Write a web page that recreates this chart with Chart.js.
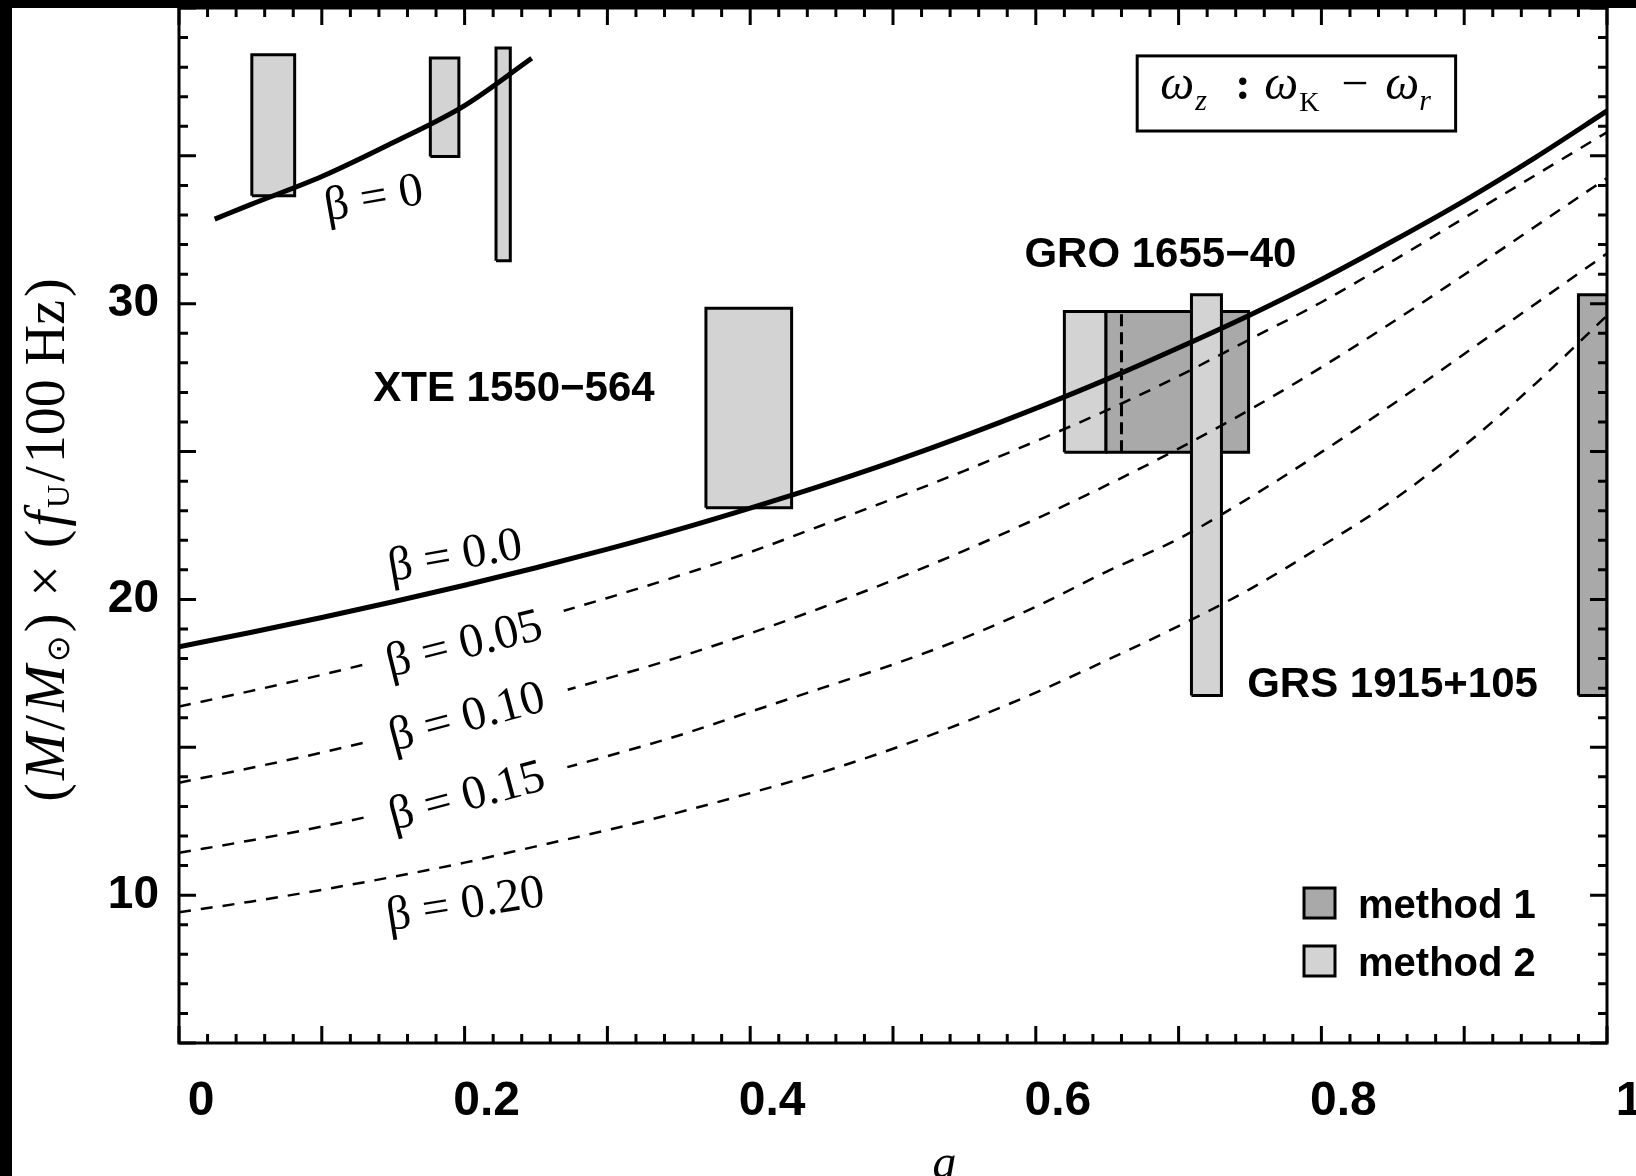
<!DOCTYPE html>
<html>
<head>
<meta charset="utf-8">
<title>Mass vs spin, wz : wK - wr resonance</title>
<script src="https://cdn.jsdelivr.net/npm/chart.js@4.4.1/dist/chart.umd.min.js"></script>
<style>
  html, body { margin: 0; padding: 0; background: #fff; }
</style>
</head>
<body>
<canvas id="massChart" width="1636" height="1176"></canvas>
<script>
// spin values where the curves were read
const spinA = [0, 0.05, 0.1, 0.15, 0.2, 0.25, 0.3, 0.35, 0.4, 0.45, 0.5,
               0.55, 0.6, 0.65, 0.7, 0.75, 0.8, 0.85, 0.9, 0.95, 1];

// (M/Msun) x (fU/100Hz) for each beta
const massBeta000 = [18.40, 18.88, 19.39, 19.92, 20.48, 21.07, 21.70, 22.37, 23.09, 23.85, 24.66,
                     25.53, 26.46, 27.45, 28.51, 29.62, 30.82, 32.12, 33.48, 34.95, 36.52];
const massBeta005 = [16.38, 16.90, 17.45, 18.05, 18.70, 19.35, 20.05, 20.80, 21.60, 22.50, 23.40,
                     24.35, 25.35, 26.40, 27.55, 28.80, 30.05, 31.45, 32.90, 34.35, 35.80];
const massBeta010 = [13.80, 14.30, 14.82, 15.40, 16.00, 16.65, 17.33, 18.05, 18.85, 19.72, 20.65,
                     21.65, 22.72, 23.87, 25.10, 26.42, 27.85, 29.38, 30.98, 32.62, 34.25];
const massBeta015 = [11.43, 11.85, 12.32, 12.85, 13.45, 14.05, 14.70, 15.40, 16.20, 17.00, 17.80,
                     18.70, 19.75, 20.95, 22.05, 23.45, 24.98, 26.60, 28.30, 30.00, 31.70];
const massBeta020 = [9.42, 9.78, 10.18, 10.62, 11.10, 11.65, 12.20, 12.80, 13.45, 14.15, 14.95,
                     15.85, 16.85, 17.95, 19.10, 20.35, 21.80, 23.35, 25.20, 27.30, 29.60];

// short beta = 0 branch at the top left
const topSpinA = [0.025, 0.05, 0.1, 0.15, 0.2, 0.247];
const massBeta0Top = [32.86, 33.35, 34.30, 35.45, 36.70, 38.30];

// source boxes (spin range x mass range), method 1 or 2
const boxLeft   = [0.051, 0.176, 0.222, 0.369, 0.620, 0.649, 0.709, 0.980];
const boxRight  = [0.081, 0.196, 0.232, 0.429, 0.649, 0.749, 0.730, 1.000];
const boxLow    = [33.65, 34.98, 31.45, 23.10, 24.98, 24.98, 16.75, 16.75];
const boxHigh   = [38.42, 38.31, 38.65, 29.85, 29.74, 29.74, 30.30, 30.30];
const boxMethod = [2, 2, 2, 2, 2, 1, 2, 1];

// dashed marker inside the GRO 1655-40 box
const groMarkA = 0.660;

// labelled ticks
const xLabelTicks = [0, 0.2, 0.4, 0.6, 0.8, 1];
const yLabelTicks = [10, 20, 30];

const shade = { 1: '#a9a9a9', 2: '#d3d3d3' };

function curve(ax, ms, width, dash) {
  return {
    data: ax.map((a, i) => ({ x: a, y: ms[i] })),
    borderColor: '#000',
    borderWidth: width,
    borderDash: dash,
    pointRadius: 0,
    cubicInterpolationMode: 'monotone',
    fill: false,
    order: 1
  };
}

const datasets = [
  curve(spinA, massBeta000, 5, []),
  curve(spinA, massBeta005, 2.5, [12, 10]),
  curve(spinA, massBeta010, 2.5, [12, 10]),
  curve(spinA, massBeta015, 2.5, [12, 10]),
  curve(spinA, massBeta020, 2.5, [12, 10]),
  curve(topSpinA, massBeta0Top, 5, []),
  {
    data: [{ x: groMarkA, y: boxLow[5] }, { x: groMarkA, y: boxHigh[5] }],
    borderColor: '#000', borderWidth: 3, borderDash: [12, 6],
    pointRadius: 0, fill: false, order: 8
  }
];

boxLeft.forEach((a0, i) => {
  const a1 = boxRight[i], lo = boxLow[i], hi = boxHigh[i];
  datasets.push({
    data: [{ x: a0, y: lo }, { x: a0, y: hi }, { x: a1, y: hi }, { x: a1, y: lo }, { x: a0, y: lo }],
    borderColor: '#000',
    borderWidth: 3,
    borderJoinStyle: 'miter',
    backgroundColor: shade[boxMethod[i]],
    fill: 'shape',
    pointRadius: 0,
    tension: 0,
    order: i === 6 ? 9 : 10
  });
});

// keep chart area fixed: no extra room for overhanging tick labels
function noPadding(s) {
  s.paddingTop = 0; s.paddingBottom = 0; s.paddingLeft = 0; s.paddingRight = 0;
}

//FRAME, TICKS AND TEXT
const decorations = {
  id: 'decorations',
  beforeDraw(chart) {
    const ctx = chart.ctx;
    ctx.save();
    ctx.fillStyle = '#fff';
    ctx.fillRect(0, 0, chart.width, chart.height);
    ctx.fillStyle = '#000';
    ctx.fillRect(0, 0, chart.width, 8);
    ctx.fillRect(0, 0, 12, chart.height);
    ctx.restore();
  },
  afterDatasetsDraw(chart) {
    const ctx = chart.ctx, area = chart.chartArea;
    const xs = chart.scales.x, ys = chart.scales.y;
    ctx.save();
    ctx.strokeStyle = '#000';
    ctx.lineWidth = 3;
    ctx.beginPath();
    for (let i = 0; i <= 50; i++) {
      const px = xs.getPixelForValue(i / 50);
      const len = i % 5 === 0 ? 17 : 9;
      ctx.moveTo(px, area.bottom); ctx.lineTo(px, area.bottom - len);
      ctx.moveTo(px, area.top); ctx.lineTo(px, area.top + len);
    }
    for (let v = 5; v <= 40; v++) {
      const py = ys.getPixelForValue(v);
      const len = v % 5 === 0 ? 17 : 9;
      ctx.moveTo(area.left, py); ctx.lineTo(area.left + len, py);
      ctx.moveTo(area.right, py); ctx.lineTo(area.right - len, py);
    }
    ctx.stroke();
    ctx.strokeRect(area.left, area.top, area.right - area.left, area.bottom - area.top);
    ctx.restore();
  },
  afterDraw(chart) {
    const ctx = chart.ctx, area = chart.chartArea;
    const X = v => chart.scales.x.getPixelForValue(v);
    const Y = v => chart.scales.y.getPixelForValue(v);
    ctx.save();
    ctx.fillStyle = '#000';
    ctx.textBaseline = 'alphabetic';

    // beta labels along the curves
    const betaNotes = [
      { text: 'β = 0',    a: 0.138, m: 33.10, angle: -10, gap: false },
      { text: 'β = 0.0',  a: 0.195, m: 21.01, angle: -10, gap: false },
      { text: 'β = 0.05', a: 0.202, m: 18.03, angle: -14, gap: true },
      { text: 'β = 0.10', a: 0.204, m: 15.56, angle: -15, gap: true },
      { text: 'β = 0.15', a: 0.204, m: 12.89, angle: -15, gap: true },
      { text: 'β = 0.20', a: 0.202, m: 9.23,  angle: -9,  gap: false }
    ];
    ctx.font = '48px "Liberation Serif", serif';
    betaNotes.forEach(n => {
      const w = ctx.measureText(n.text).width;
      ctx.save();
      ctx.translate(X(n.a), Y(n.m));
      ctx.rotate(n.angle * Math.PI / 180);
      if (n.gap) {
        ctx.fillStyle = '#fff';
        ctx.fillRect(-w / 2 - 20, -38, w + 45, 36);
        ctx.fillStyle = '#000';
      }
      ctx.textAlign = 'center';
      ctx.fillText(n.text, 0, 0);
      ctx.restore();
    });

    // source names
    ctx.font = 'bold 42px "Liberation Sans", Arial, sans-serif';
    ctx.textAlign = 'left';
    ctx.fillText('XTE 1550−564', X(0.136), Y(26.70));
    ctx.fillText('GRO 1655−40', X(0.592), Y(31.24));
    ctx.fillText('GRS 1915+105', X(0.748), Y(16.71));

    // legend
    const legendItems = [['method 1', 1], ['method 2', 2]];
    ctx.font = 'bold 40px "Liberation Sans", Arial, sans-serif';
    legendItems.forEach((it, i) => {
      const top = area.bottom - 155 + i * 58;
      ctx.fillStyle = shade[it[1]];
      ctx.fillRect(area.right - 303, top, 31, 30);
      ctx.lineWidth = 3;
      ctx.strokeStyle = '#000';
      ctx.strokeRect(area.right - 303, top, 31, 30);
      ctx.fillStyle = '#000';
      ctx.fillText(it[0], area.right - 249, top + 30);
    });

    // resonance box
    const bx = X(0.671), by = Y(38.38), bw = X(0.894) - bx, bh = Y(35.84) - by;
    ctx.fillStyle = '#fff';
    ctx.fillRect(bx, by, bw, bh);
    ctx.lineWidth = 3;
    ctx.strokeRect(bx, by, bw, bh);
    ctx.fillStyle = '#000';
    const omegaParts = [
      ['ω', 23, 0, 'italic 48px "Liberation Serif", serif'],
      ['z', 58, 11, 'italic 30px "Liberation Serif", serif'],
      [':', 98, 0, 'bold 46px "Liberation Serif", serif'],
      ['ω', 127, 0, 'italic 48px "Liberation Serif", serif'],
      ['K', 162, 12, '28px "Liberation Serif", serif'],
      ['−', 204, 0, '48px "Liberation Serif", serif'],
      ['ω', 248, 0, 'italic 48px "Liberation Serif", serif'],
      ['r', 282, 11, 'italic 30px "Liberation Serif", serif']
    ];
    omegaParts.forEach(p => {
      ctx.font = p[3];
      ctx.fillText(p[0], bx + p[1], by + 43 + p[2]);
    });

    // x axis title
    ctx.font = 'italic 48px "Liberation Serif", serif';
    ctx.textAlign = 'center';
    ctx.fillText('a', X(0.536), 1178);

    // y axis title with subscripts
    const yParts = [
      ['(', 'r'], ['M', 'i'], ['/', 'r'], ['M', 'i'], ['⊙', 's'], [')', 'r'],
      [' × ', 'r'], ['(', 'r'], ['f', 'i'], ['U', 's'], ['/', 'r'], ['100 Hz', 'r'], [')', 'r']
    ];
    const yFonts = {
      r: '56px "Liberation Serif", serif',
      i: 'italic 56px "Liberation Serif", serif',
      s: '32px "Liberation Serif", "DejaVu Sans", serif'
    };
    const spacing = 3;
    let total = 0;
    yParts.forEach(p => { ctx.font = yFonts[p[1]]; total += ctx.measureText(p[0]).width + spacing; });
    total -= spacing;
    ctx.save();
    ctx.translate(64, 540);
    ctx.rotate(-Math.PI / 2);
    ctx.textAlign = 'left';
    let cx = -total / 2;
    yParts.forEach(p => {
      ctx.font = yFonts[p[1]];
      ctx.fillText(p[0], cx, p[1] === 's' ? 5 : 0);
      cx += ctx.measureText(p[0]).width + spacing;
    });
    ctx.restore();

    ctx.restore();
  }
};

//CHART
Chart.defaults.color = '#000';
Chart.defaults.font.family = '"Liberation Sans", Arial, sans-serif';

const massChart = new Chart(document.getElementById('massChart').getContext('2d'), {
  type: 'line',
  data: { datasets: datasets },
  plugins: [decorations],
  options: {
    responsive: false,
    animation: false,
    events: [],
    layout: { padding: { top: 8, right: 29, bottom: 0, left: 0 } },
    plugins: {
      legend: { display: false },
      tooltip: { enabled: false }
    },
    scales: {
      x: {
        type: 'linear',
        min: 0,
        max: 1,
        grid: { display: false, drawTicks: false },
        border: { display: false },
        afterBuildTicks: s => { s.ticks = xLabelTicks.map(v => ({ value: v })); },
        afterFit: s => { s.height = 133; noPadding(s); },
        ticks: {
          autoSkip: false,
          maxRotation: 0,
          padding: 30,
          labelOffset: 22,
          font: { size: 48, weight: 'bold' },
          callback: v => String(v)
        }
      },
      y: {
        type: 'linear',
        min: 5,
        max: 40,
        grid: { display: false, drawTicks: false },
        border: { display: false },
        afterBuildTicks: s => { s.ticks = yLabelTicks.map(v => ({ value: v })); },
        afterFit: s => { s.width = 179; noPadding(s); },
        ticks: {
          padding: 20,
          font: { size: 46, weight: 'bold' },
          callback: v => String(v)
        }
      }
    }
  }
});
</script>
</body>
</html>
